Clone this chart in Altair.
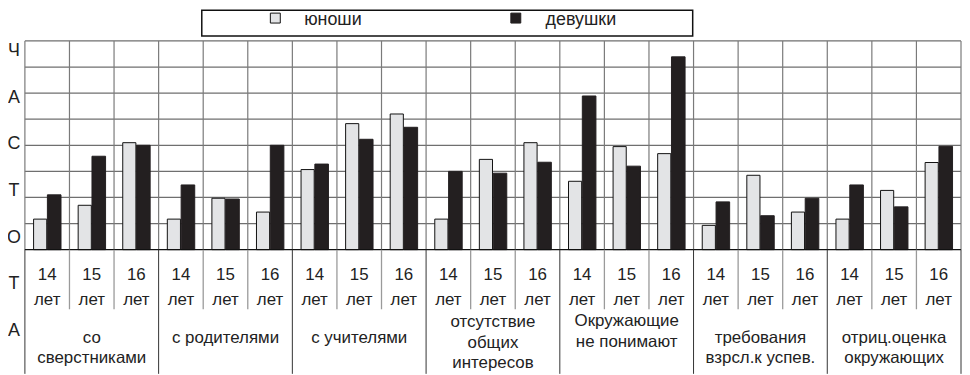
import altair as alt
import pandas as pd

# ---------------- data ----------------
categories = ["со\nсверстниками", "с родителями", "с учителями",
              "отсутствие\nобщих\nинтересов", "Окружающие\nне понимают",
              "требования\nвзрсл.к успев.", "отриц.оценка\nокружающих"]
ages = ["14", "15", "16"]
age_word = "лет"
series = ["юноши", "девушки"]
boys = [1.17, 1.70, 4.10, 1.17, 1.97, 1.44, 3.07, 4.83, 5.20,
        1.17, 3.46, 4.10, 2.62, 3.95, 3.68, 0.93, 2.85, 1.44,
        1.17, 2.27, 3.34]
girls = [2.10, 3.58, 4.00, 2.48, 1.94, 4.00, 3.28, 4.23, 4.69,
         3.00, 2.93, 3.35, 5.89, 3.20, 7.39, 1.83, 1.30, 1.97,
         2.48, 1.64, 3.96]
axis_letters = list("ЧАСТОТА")
grid_levels = list(range(0, 9))

# ---------------- layout helpers (pixel -> scale units) ----------------
W, H = 960, 367
LEFT_PX, RIGHT_PX = 17, 959
NG = len(categories) * len(ages)
UX = (RIGHT_PX - LEFT_PX) / NG          # px per group
BASE_PY, UY = 242, 26.25                # baseline px, px per unit
FONT = "Liberation Sans"

def vy(page_y):
    return (BASE_PY - (page_y - 8)) / UY

def vx(page_x):
    return (page_x - 8 - LEFT_PX) / UX

xs = alt.Scale(domain=[-LEFT_PX / UX, (W - LEFT_PX) / UX], nice=False, zero=False)
ys = alt.Scale(domain=[vy(8 + H), vy(8)], nice=False, zero=False)

def X(f, **kw):
    return alt.X(f, type="quantitative", scale=xs, axis=None, **kw)

def Y(f, **kw):
    return alt.Y(f, type="quantitative", scale=ys, axis=None, **kw)

# ---------------- bars ----------------
bar_rows = []
for ci, cat in enumerate(categories):
    for ai, age in enumerate(ages):
        i = ci * 3 + ai
        bar_rows.append({"idx": i, "series": series[0], "v": boys[i]})
        bar_rows.append({"idx": i, "series": series[1], "v": girls[i]})
bars_df = pd.DataFrame(bar_rows)

col_scale = alt.Scale(domain=series, range=["#e3e4e6", "#231f20"])
stroke_scale = alt.Scale(domain=series, range=["#111111", "#231f20"])

bars = alt.Chart(bars_df).transform_calculate(
    x0=f"datum.idx + (datum.series == '{series[0]}' ? 0.195 : 0.505)",
    x1=f"datum.idx + (datum.series == '{series[0]}' ? 0.49 : 0.81)",
    y0="0",
).mark_bar(strokeWidth=1).encode(
    x=X("x0"), x2="x1:Q", y=Y("y0"), y2="v:Q",
    fill=alt.Fill("series:N", scale=col_scale, legend=None),
    stroke=alt.Stroke("series:N", scale=stroke_scale, legend=None),
)

# ---------------- grid ----------------
hgrid_df = pd.DataFrame({"g": grid_levels[1:], "a": 0, "b": NG})
hgrid = alt.Chart(hgrid_df).mark_rule(color="#6f6f6f", strokeWidth=1.2).encode(
    x=X("a"), x2="b:Q", y=Y("g"))
base_df = pd.DataFrame({"g": [0], "a": [0], "b": [NG]})
baseline = alt.Chart(base_df).mark_rule(color="#111111", strokeWidth=1.3).encode(
    x=X("a"), x2="b:Q", y=Y("g"))

vgrid_df = pd.DataFrame({"i": list(range(1, NG)), "lo": 0, "hi": 8})
vgrid = alt.Chart(vgrid_df).mark_rule(color="#7a7a7a", strokeWidth=1.2).encode(
    x=X("i"), y=Y("lo"), y2="hi:Q")

edge_df = pd.DataFrame({"i": [0, NG], "lo": 0, "hi": 8})
edges = alt.Chart(edge_df).mark_rule(color="#7a7a7a", strokeWidth=1.2).encode(
    x=X("i"), y=Y("lo"), y2="hi:Q")

# ---------------- table below ----------------
age_sep_df = pd.DataFrame({"i": [i for i in range(1, NG) if i % 3 != 0],
                           "lo": vy(310), "hi": 0})
age_sep = alt.Chart(age_sep_df).mark_rule(color="#9a9a9a", strokeWidth=1.3).encode(
    x=X("i"), y=Y("lo"), y2="hi:Q")

cat_sep_df = pd.DataFrame({"i": list(range(0, NG + 1, 3)), "lo": vy(375), "hi": 0})
cat_sep = alt.Chart(cat_sep_df).mark_rule(color="#333333", strokeWidth=1).encode(
    x=X("i"), y=Y("lo"), y2="hi:Q")

age_rows = []
for ci in range(len(categories)):
    for ai, age in enumerate(ages):
        i = ci * 3 + ai
        age_rows.append({"xc": i + 0.5, "t": age, "y": vy(276)})
        age_rows.append({"xc": i + 0.5, "t": age_word, "y": vy(301)})
age_text = alt.Chart(pd.DataFrame(age_rows)).mark_text(
    font=FONT, fontSize=17, color="#222222", baseline="middle", align="center"
).encode(x=X("xc"), y=Y("y"), text="t:N")

# first-line centre (page px) and line step for each category label
cat_first = [338, 338, 338, 322, 321, 338, 338]
cat_step = [20.5, 20.5, 20.5, 20.5, 20.5, 20.5, 20.5]
cat_rows = []
for ci, cat in enumerate(categories):
    for li, line in enumerate(cat.split("\n")):
        cat_rows.append({"xc": ci * 3 + 1.5, "t": line,
                         "y": vy(cat_first[ci] + li * cat_step[ci] + 1)})
cat_text = alt.Chart(pd.DataFrame(cat_rows)).mark_text(
    font=FONT, fontSize=17, color="#222222", baseline="middle", align="center"
).encode(x=X("xc"), y=Y("y"), text="t:N")

letters_df = pd.DataFrame({"t": axis_letters,
                           "y": [vy(50 + 47 * k) for k in range(len(axis_letters))],
                           "xl": vx(14)})
letters = alt.Chart(letters_df).mark_text(
    font=FONT, fontSize=18, color="#222222", baseline="middle", align="center"
).encode(x=X("xl"), y=Y("y"), text="t:N")

# ---------------- legend ----------------
lbox_df = pd.DataFrame({"a": [vx(203)], "b": [vx(697)], "lo": [vy(35)], "hi": [vy(9)]})
lbox = alt.Chart(lbox_df).mark_rect(fill="white", stroke="#111111", strokeWidth=1.5).encode(
    x=X("a"), x2="b:Q", y=Y("lo"), y2="hi:Q")

leg_df = pd.DataFrame({"series": series,
                       "sx": [vx(277), vx(519)],
                       "tx": [vx(306), vx(549)],
                       "sy": [vy(17), vy(17)],
                       "ty": [vy(19), vy(19)]})
leg_sym = alt.Chart(leg_df).mark_point(shape="square", size=100, filled=True,
                                       strokeWidth=1, opacity=1).encode(
    x=X("sx"), y=Y("sy"),
    fill=alt.Fill("series:N", scale=col_scale, legend=None),
    stroke=alt.Stroke("series:N", scale=stroke_scale, legend=None),
)
leg_txt = alt.Chart(leg_df).mark_text(
    font=FONT, fontSize=18, color="#222222", baseline="middle", align="left"
).encode(x=X("tx"), y=Y("ty"), text="series:N")

chart = alt.layer(
    hgrid, vgrid, edges, bars, baseline, age_sep, cat_sep,
    age_text, cat_text, letters, lbox, leg_sym, leg_txt
).properties(
    width=W, height=H, autosize=alt.AutoSizeParams(type="none"), padding=0
).configure_view(stroke=None)

chart.save("out.html", embed_options={"renderer": "svg", "actions": False})
